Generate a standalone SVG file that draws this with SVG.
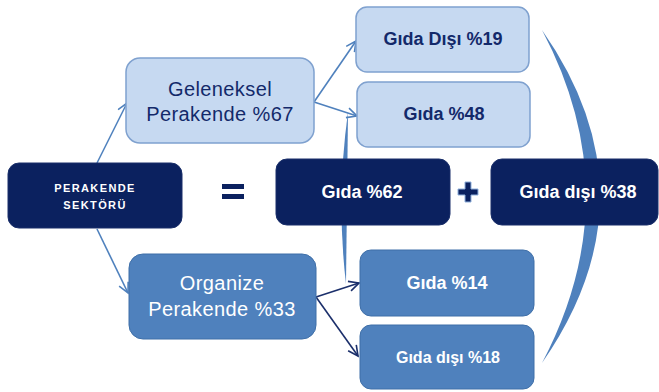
<svg xmlns="http://www.w3.org/2000/svg" width="659" height="392" viewBox="0 0 659 392">
<style>
.dark{fill:#0b215f;stroke:#1a2f6a;stroke-width:1}
.light{fill:#c6d9f1;stroke:#7fa1cf;stroke-width:1.5}
.mid{fill:#4f81bd;stroke:#3f6fa8;stroke-width:1}
text{font-family:"Liberation Sans",Arial,sans-serif;text-anchor:middle}
.tl{fill:#13296a}
.tw{fill:#ffffff}
.c1{stroke:#4f81bd;stroke-width:1.6;fill:none}
.c2{stroke:#1b2f6b;stroke-width:1.6;fill:none}
</style>
<defs>
<marker id="a1" markerUnits="userSpaceOnUse" markerWidth="14" markerHeight="14" refX="11" refY="6" orient="auto">
<path d="M1,1 L11,6 L1,11" fill="none" stroke="#4f81bd" stroke-width="1.6"/>
</marker>
<marker id="a2" markerUnits="userSpaceOnUse" markerWidth="14" markerHeight="14" refX="11" refY="6" orient="auto">
<path d="M1,1 L11,6 L1,11" fill="none" stroke="#1b2f6b" stroke-width="1.6"/>
</marker>
</defs>
<g id="connectors">
<path class="c1" d="M97,163 L127,103" marker-end="url(#a1)"/>
<path class="c1" d="M97,229 L128,293" marker-end="url(#a1)"/>
<path class="c1" d="M314,102 L356,41" marker-end="url(#a1)"/>
<path class="c1" d="M314,102 L357,116" marker-end="url(#a1)"/>
<path class="c2" d="M316,297 L359,283" marker-end="url(#a2)"/>
<path class="c2" d="M316,297 L358,356" marker-end="url(#a2)"/>
<path d="M348,112 Q336,198 346,284 Q347,198 348,112 Z" fill="#4f81bd"/>
<path d="M542,30 Q658,196 542,363 Q630,196 542,30 Z" fill="#4f81bd"/>
</g>
<g id="perakende">
<rect class="dark" x="8" y="163" width="174" height="65" rx="11"/>
<text class="tw" x="95" y="192" font-size="11" font-weight="bold" letter-spacing="1.4">PERAKENDE</text>
<text class="tw" x="95" y="209" font-size="11" font-weight="bold" letter-spacing="1.4">SEKTÖRÜ</text>
</g>
<g id="geleneksel">
<rect class="light" x="126" y="58" width="188" height="85" rx="14"/>
<text class="tl" x="220" y="96" font-size="20" letter-spacing="0.4">Geleneksel</text>
<text class="tl" x="220" y="121" font-size="20" letter-spacing="0.4">Perakende %67</text>
</g>
<g id="organize">
<rect class="mid" x="129" y="254" width="187" height="85" rx="14"/>
<text class="tw" x="222" y="290" font-size="20" letter-spacing="0.4">Organize</text>
<text class="tw" x="222" y="316" font-size="20" letter-spacing="0.4">Perakende %33</text>
</g>
<g id="gida-disi-19">
<rect class="light" x="356" y="7" width="173" height="65" rx="11"/>
<text class="tl" x="443" y="45" font-size="18" font-weight="bold">Gıda Dışı %19</text>
</g>
<g id="gida-48">
<rect class="light" x="357" y="82" width="173" height="65" rx="11"/>
<text class="tl" x="444" y="120" font-size="18" font-weight="bold">Gıda %48</text>
</g>
<g id="equals">
<rect x="222" y="184" width="22" height="5" fill="#0b215f"/>
<rect x="222" y="194" width="22" height="5" fill="#0b215f"/>
</g>
<g id="gida-62">
<rect class="dark" x="276" y="159" width="174" height="66" rx="11"/>
<text class="tw" x="362" y="198" font-size="18" font-weight="bold">Gıda  %62</text>
</g>
<g id="plus">
<path d="M465,182 h6 v7 h7 v6 h-7 v7 h-6 v-7 h-7 v-6 h7 Z" fill="#0b215f" stroke="#8fb0dc" stroke-width="1"/>
</g>
<g id="gida-disi-38">
<rect class="dark" x="491" y="159" width="167" height="66" rx="11"/>
<text class="tw" x="578" y="198" font-size="18" font-weight="bold">Gıda dışı %38</text>
</g>
<g id="gida-14">
<rect class="mid" x="360" y="250" width="174" height="66" rx="11"/>
<text class="tw" x="447" y="289" font-size="18" font-weight="bold">Gıda %14</text>
</g>
<g id="gida-disi-18">
<rect class="mid" x="360" y="325" width="174" height="64" rx="11"/>
<text class="tw" x="448" y="363" font-size="16" font-weight="bold">Gıda dışı %18</text>
</g>
</svg>
